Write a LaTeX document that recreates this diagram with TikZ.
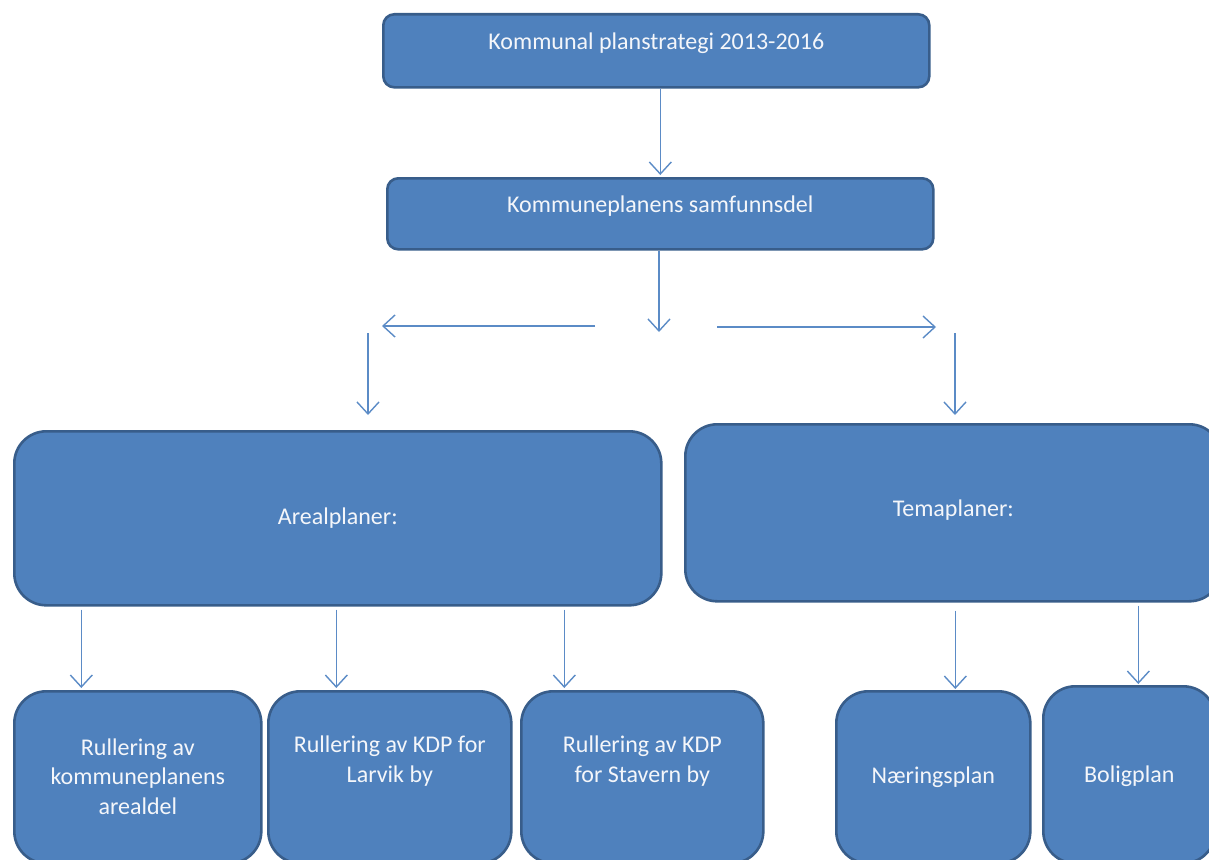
\documentclass[tikz,border=0pt]{standalone}
\usepackage{fontspec}
\setmainfont{Carlito}
\usetikzlibrary{arrows.meta}
\definecolor{boxfill}{HTML}{4F81BD}
\definecolor{boxline}{HTML}{385D8A}
\definecolor{arrcol}{HTML}{5B8BC6}
\definecolor{txtcol}{HTML}{F4F6FA}
\begin{document}
\begin{tikzpicture}[x=1pt,y=-1pt,
  box/.style={draw=boxline, fill=boxfill, line width=2.6pt, anchor=north west, inner sep=0pt},
  small/.style={box, rounded corners=11pt},
  big/.style={box, rounded corners=32pt},
  lbl/.style={text=txtcol, align=center, font=\fontsize{24}{29.5}\selectfont},
  arr/.style={draw=arrcol, line width=1.4pt, -{Straight Barb[length=12pt,width=22pt,line width=1.4pt]}}]
\path[use as bounding box] (0,0) rectangle (1209,859);
\clip (0,0) rectangle (1209,859);
% boxes
\node[small, minimum width=546pt, minimum height=73pt,
  label={[lbl, yshift=7.5pt]center:Kommunal planstrategi 2013-2016}] (b1) at (382,13) {};
\node[small, minimum width=546pt, minimum height=71pt,
  label={[lbl, yshift=7.5pt]center:Kommuneplanens samfunnsdel}] (b2) at (386,177) {};
\node[big, minimum width=647pt, minimum height=174pt,
  label={[lbl]center:Arealplaner:}] (b3) at (13,430) {};
\node[big, minimum width=536pt, minimum height=177pt,
  label={[lbl, yshift=3pt]center:Temaplaner:}] (b4) at (684,423) {};
\node[big, minimum width=247pt, minimum height=172pt,
  label={[lbl, yshift=1pt]center:Rullering av\\kommuneplanens\\arealdel}] (b5) at (13,690) {};
\node[big, minimum width=243pt, minimum height=172pt,
  label={[lbl, yshift=16pt]center:Rullering av KDP for\\Larvik by}] (b6) at (267,690) {};
\node[big, minimum width=242pt, minimum height=172pt,
  label={[lbl, yshift=16pt]center:Rullering av KDP\\for Stavern by}] (b7) at (520,690) {};
\node[big, minimum width=194pt, minimum height=172pt,
  label={[lbl]center:Næringsplan}] (b8) at (835,690) {};
\node[big, minimum width=172pt, minimum height=177pt,
  label={[lbl, yshift=-1pt]center:Boligplan}] (b9) at (1042,685) {};
% free ends
\coordinate (hub) at (659,332);
\coordinate (lstart) at (595,326);
\coordinate (lend) at (382,326);
\coordinate (rstart) at (717,327);
\coordinate (rend) at (936,327);
\coordinate (ldown) at (368,333);
\coordinate (rdown) at (955,333);
% connectors
\draw[arr] ([xshift=4pt]b1.south) -- ([yshift=2pt]b2.north);
\draw[arr] (b2.south -| hub) -- (hub);
\draw[arr] (lstart) -- (lend);
\draw[arr] (rstart) -- (rend);
\draw[arr] (ldown) -- ([yshift=15pt]b3.north -| ldown);
\draw[arr] (rdown) -- ([yshift=8pt]b4.north -| rdown);
\draw[arr] ([xshift=-256.5pt,yshift=-3pt]b3.south) -- ([xshift=-56.5pt,yshift=2pt]b5.north);
\draw[arr] ([xshift=-1.5pt,yshift=-3pt]b3.south) -- ([xshift=-53.5pt,yshift=2pt]b6.north);
\draw[arr] ([xshift=226.5pt,yshift=-3pt]b3.south) -- ([xshift=-78pt,yshift=2pt]b7.north);
\draw[arr] ([xshift=2pt,yshift=-8pt]b4.south) -- ([xshift=22pt,yshift=1pt]b8.north);
\draw[arr] ([xshift=185pt,yshift=-3pt]b4.south) -- ([xshift=9pt,yshift=1pt]b9.north);
\end{tikzpicture}
\end{document}
